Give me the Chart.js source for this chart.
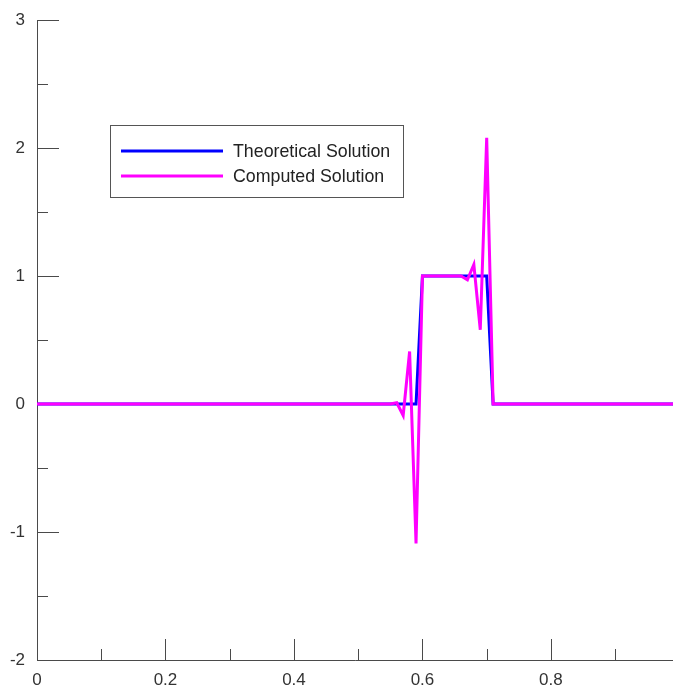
<!DOCTYPE html>
<html><head><meta charset="utf-8">
<script src="https://cdn.jsdelivr.net/npm/chart.js@4/dist/chart.umd.min.js"></script>
<style>html,body{margin:0;padding:0;background:#fff;overflow:hidden}</style>
</head><body>
<canvas id="c" width="674" height="688"></canvas>
<script>
const xValues = [
0.00,0.01,0.02,0.03,0.04,0.05,0.06,0.07,0.08,0.09,
0.10,0.11,0.12,0.13,0.14,0.15,0.16,0.17,0.18,0.19,
0.20,0.21,0.22,0.23,0.24,0.25,0.26,0.27,0.28,0.29,
0.30,0.31,0.32,0.33,0.34,0.35,0.36,0.37,0.38,0.39,
0.40,0.41,0.42,0.43,0.44,0.45,0.46,0.47,0.48,0.49,
0.50,0.51,0.52,0.53,0.54,0.55,0.56,0.57,0.58,0.59,
0.60,0.61,0.62,0.63,0.64,0.65,0.66,0.67,0.68,0.69,
0.70,0.71,0.72,0.73,0.74,0.75,0.76,0.77,0.78,0.79,
0.80,0.81,0.82,0.83,0.84,0.85,0.86,0.87,0.88,0.89,
0.90,0.91,0.92,0.93,0.94,0.95,0.96,0.97,0.98,0.99];
const theoretical = [
0,0,0,0,0,0,0,0,0,0,
0,0,0,0,0,0,0,0,0,0,
0,0,0,0,0,0,0,0,0,0,
0,0,0,0,0,0,0,0,0,0,
0,0,0,0,0,0,0,0,0,0,
0,0,0,0,0,0,0,0,0,0,
1,1,1,1,1,1,1,1,1,1,
1,0,0,0,0,0,0,0,0,0,
0,0,0,0,0,0,0,0,0,0,
0,0,0,0,0,0,0,0,0,0];
const computed = [
0,0,0,0,0,0,0,0,0,0,
0,0,0,0,0,0,0,0,0,0,
0,0,0,0,0,0,0,0,0,0,
0,0,0,0,0,0,0,0,0,0,
0,0,0,0,0,0,0,0,0,0,
0,0,0,0,0,0,0.01,-0.09,0.41,-1.09,
1,1,1,1,1,1,1,0.97,1.09,0.58,
2.08,0,0,0,0,0,0,0,0,0,
0,0,0,0,0,0,0,0,0,0,
0,0,0,0,0,0,0,0,0,0];
const xTicks = [0,0.1,0.2,0.3,0.4,0.5,0.6,0.7,0.8,0.9];
const xLabels = ['0','','0.2','','0.4','','0.6','','0.8',''];
const yTicks = [-2,-1.5,-1,-0.5,0,0.5,1,1.5,2,2.5,3];
const yLabels = ['-2','','-1','','0','','1','','2','','3'];
const seriesNames = ['Theoretical Solution','Computed Solution'];
const seriesColors = ['#0000ff','#ff00ff'];

const FONT = '"Liberation Sans", Arial, sans-serif';

const axesPlugin = {
  id: 'axesPlugin',
  beforeDatasetsDraw(chart) {
    const {ctx, chartArea: a, scales: {x, y}} = chart;
    ctx.save();
    ctx.strokeStyle = '#4a4a4a';
    ctx.lineWidth = 1;
    ctx.beginPath();
    ctx.moveTo(a.left + 0.5, a.top);
    ctx.lineTo(a.left + 0.5, a.bottom + 0.5);
    ctx.lineTo(a.right, a.bottom + 0.5);
    ctx.stroke();
    yTicks.forEach((v, i) => {
      const py = Math.round(y.getPixelForValue(v)) + 0.5;
      const len = yLabels[i] ? 22 : 11;
      ctx.beginPath();
      ctx.moveTo(a.left, py);
      ctx.lineTo(a.left + len, py);
      ctx.stroke();
    });
    xTicks.forEach((v, i) => {
      if (v === 0) return;
      const px = Math.round(x.getPixelForValue(v)) + 0.5;
      const len = xLabels[i] ? 21 : 11;
      ctx.beginPath();
      ctx.moveTo(px, a.bottom);
      ctx.lineTo(px, a.bottom - len);
      ctx.stroke();
    });
    ctx.restore();
  },
  afterDraw(chart) {
    const ctx = chart.ctx;
    ctx.save();
    ctx.fillStyle = '#ffffff';
    ctx.fillRect(110, 125, 293, 72);
    ctx.strokeStyle = '#555555';
    ctx.lineWidth = 1;
    ctx.strokeRect(110.5, 125.5, 293, 72);
    seriesNames.forEach((name, i) => {
      const yy = 151 + i * 25;
      ctx.strokeStyle = seriesColors[i];
      ctx.lineWidth = 3;
      ctx.beginPath();
      ctx.moveTo(121, yy);
      ctx.lineTo(223, yy);
      ctx.stroke();
      ctx.fillStyle = '#222222';
      ctx.font = '17.8px ' + FONT;
      ctx.textBaseline = 'middle';
      ctx.textAlign = 'left';
      ctx.fillText(name, 233, yy + 1);
    });
    ctx.restore();
  }
};

new Chart(document.getElementById('c'), {
  type: 'line',
  data: {
    datasets: [
      {label: seriesNames[0], data: xValues.map((v, i) => ({x: v, y: theoretical[i]})),
       borderColor: seriesColors[0], borderWidth: 3, pointRadius: 0, tension: 0, fill: false, order: 1},
      {label: seriesNames[1], data: xValues.map((v, i) => ({x: v, y: computed[i]})),
       borderColor: seriesColors[1], borderWidth: 3, pointRadius: 0, tension: 0, fill: false, order: 0}
    ]
  },
  options: {
    responsive: false,
    animation: false,
    layout: {padding: {top: 20, right: 1, left: 0, bottom: 0}},
    plugins: {legend: {display: false}, tooltip: {enabled: false}},
    scales: {
      x: {
        type: 'linear', min: 0, max: 0.99,
        grid: {display: false, drawTicks: false},
        border: {display: false},
        afterBuildTicks: s => { s.ticks = xTicks.map(v => ({value: v})); },
        afterFit: s => { s.height = 28; s.paddingLeft = 0; s.paddingRight = 0; },
        ticks: {
          autoSkip: false, maxRotation: 0, padding: 10,
          color: '#333333', font: {family: FONT, size: 17},
          callback: (v, i) => xLabels[i]
        }
      },
      y: {
        type: 'linear', min: -2, max: 3,
        grid: {display: false, drawTicks: false},
        border: {display: false},
        afterBuildTicks: s => { s.ticks = yTicks.map(v => ({value: v})); },
        afterFit: s => { s.width = 37; s.paddingTop = 0; s.paddingBottom = 0; },
        ticks: {
          autoSkip: false, padding: 12,
          color: '#333333', font: {family: FONT, size: 17},
          callback: (v, i) => yLabels[i]
        }
      }
    }
  },
  plugins: [axesPlugin]
});
</script>
</body></html>
